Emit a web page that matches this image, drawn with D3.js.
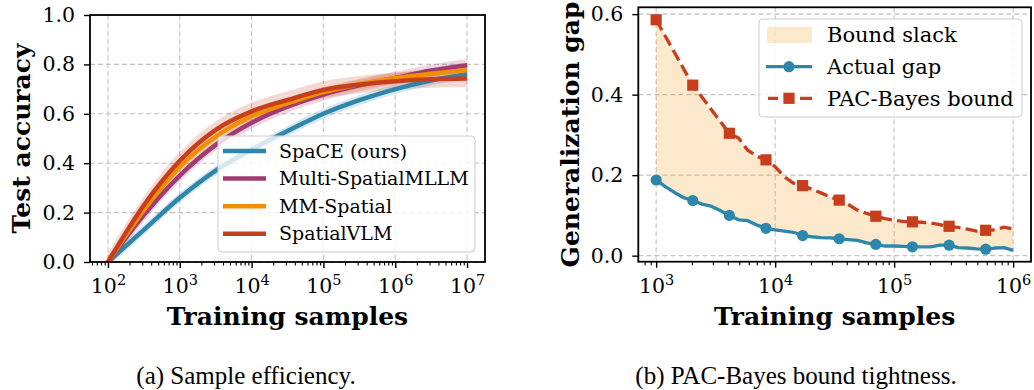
<!DOCTYPE html>
<html>
<head>
<meta charset="utf-8">
<script src="https://cdn.jsdelivr.net/npm/d3@7"></script>
<style>
  body { margin: 0; background: #fff; }
  svg { display: block; font-family: "DejaVu Serif", serif; }
</style>
</head>
<body>
<div class="chart"></div>
<script>
const effSamples = [100, 316, 1000, 3162, 10000, 31623, 100000, 316228, 1000000, 3162278, 10000000];
const effNames = ['SpaCE (ours)', 'Multi-SpatialMLLM', 'MM-Spatial', 'SpatialVLM'];
const spaceAcc = [0, 0.13, 0.26, 0.37, 0.455, 0.53, 0.60, 0.655, 0.70, 0.735, 0.76];
const multiAcc = [0, 0.19, 0.35, 0.474, 0.564, 0.629, 0.678, 0.715, 0.745, 0.775, 0.797];
const mmAcc    = [0, 0.21, 0.385, 0.507, 0.591, 0.642, 0.688, 0.72, 0.745, 0.762, 0.777];
const vlmAcc   = [0, 0.23, 0.41, 0.535, 0.61, 0.656, 0.697, 0.718, 0.732, 0.74, 0.743];
const effSpread = [0.02, 0.025, 0.02, 0.035];
const accTicks = [0, 0.2, 0.4, 0.6, 0.8, 1.0];
const accDecades = [2, 3, 4, 5, 6, 7];

// (b) PAC-Bayes bound tightness
const gapSamples = [1000, 1194, 1425, 1701, 2031, 2424, 2894, 3455, 4125, 4924,
  5879, 7017, 8377, 10000, 11938, 14251, 17013, 20309, 24245, 28943,
  34551, 41246, 49239, 58780, 70170, 83768, 100000, 119378, 142510, 170125,
  203092, 242446, 289427, 345511, 412463, 492388, 587802, 701704, 837678, 1000000];
const actualGap = [0.188, 0.1715, 0.157, 0.144, 0.137, 0.128, 0.123, 0.112, 0.100, 0.089,
  0.087, 0.076, 0.068, 0.064, 0.061, 0.058, 0.050, 0.047, 0.045, 0.044,
  0.042, 0.040, 0.038, 0.032, 0.028, 0.024, 0.024, 0.023, 0.022, 0.022,
  0.022, 0.026, 0.026, 0.020, 0.019, 0.017, 0.016, 0.019, 0.020, 0.013];
const pacBound = [0.586, 0.545, 0.505, 0.464, 0.4235, 0.394, 0.364, 0.334, 0.304, 0.292,
  0.262, 0.247, 0.238, 0.221, 0.196, 0.180, 0.174, 0.165, 0.156, 0.146,
  0.138, 0.127, 0.113, 0.105, 0.098, 0.092, 0.088, 0.085, 0.084, 0.083,
  0.081, 0.077, 0.073, 0.070, 0.066, 0.061, 0.063, 0.064, 0.071, 0.066];
const gapNames = ['Bound slack', 'Actual gap', 'PAC-Bayes bound'];
const gapTicks = [0, 0.2, 0.4, 0.6];
const gapDecades = [3, 4, 5, 6];

const colors = ['#2E86AB', '#A23B72', '#F18F01', '#C73E1D'];
const SERIF = '"DejaVu Serif", serif';
const TICK_FONT = 20.5;
const LABEL_FONT = 25;

const svg = d3.select('.chart')
  .append('svg')
    .attr('width', 1034)
    .attr('height', 390);

const xA = d3.scaleLog().domain([10 ** 1.75, 10 ** 7.25]).range([90, 485]);
const yA = d3.scaleLinear().domain([0, 1]).range([262, 15]);
const xB = d3.scaleLog().domain([10 ** 2.85, 10 ** 6.15]).range([638.3, 1031]);
const yB = d3.scaleLinear().domain([-0.015, 0.617]).range([261.7, 7.3]);

function minorTicks (x) {
  const [lo, hi] = x.domain();
  const out = [];
  for (let k = Math.floor(Math.log10(lo)); k <= Math.ceil(Math.log10(hi)); k++) {
    for (let m = 2; m <= 9; m++) {
      const v = m * 10 ** k;
      if (v >= lo && v <= hi) out.push(v);
    }
  }
  return out;
}

function axes (id, x, y, decades, yTicks) {
  const [left, right] = x.range();
  const [bottom, top] = y.range();
  svg.append('clipPath').attr('id', id)
    .append('rect')
      .attr('x', left).attr('y', top)
      .attr('width', right - left).attr('height', bottom - top);

  const grid = svg.append('g')
    .attr('stroke', '#c2c2c2')
    .attr('stroke-width', 1.1)
    .attr('stroke-dasharray', '5,3');
  grid.selectAll('.gx').data(decades).join('line')
    .attr('x1', d => x(10 ** d)).attr('x2', d => x(10 ** d))
    .attr('y1', top).attr('y2', bottom);
  grid.selectAll('.gy').data(yTicks).join('line')
    .attr('x1', left).attr('x2', right)
    .attr('y1', d => y(d)).attr('y2', d => y(d));

  const yAxis = svg.append('g')
    .attr('transform', `translate(${left}, 0)`)
    .call(d3.axisLeft(y).tickValues(yTicks).tickSize(6).tickPadding(9)
      .tickFormat(d3.format('.1f')))
    .attr('font-size', TICK_FONT)
    .attr('font-family', SERIF);
  yAxis.select('.domain').remove();
  yAxis.selectAll('line').attr('stroke-width', 1.4);
  yAxis.selectAll('text').attr('fill', '#000').attr('font-family', SERIF);

  const xMinor = svg.append('g')
    .attr('transform', `translate(0, ${bottom})`)
    .call(d3.axisBottom(x).tickValues(minorTicks(x)).tickSize(3.5).tickFormat(() => ''));
  xMinor.select('.domain').remove();
  xMinor.selectAll('line').attr('stroke-width', 1.1);

  const xAxis = svg.append('g')
    .attr('transform', `translate(0, ${bottom})`)
    .call(d3.axisBottom(x).tickValues(decades.map(d => 10 ** d)).tickSize(6).tickFormat(() => ''));
  xAxis.select('.domain').remove();
  xAxis.selectAll('line').attr('stroke-width', 1.4);
  xAxis.selectAll('.tick').each(function (v) {
    const t = d3.select(this).append('text')
      .attr('y', 292.7 - bottom)
      .attr('text-anchor', 'middle')
      .attr('fill', '#000')
      .attr('font-size', TICK_FONT)
      .attr('font-family', SERIF);
    t.append('tspan').text('10');
    t.append('tspan').attr('dy', -8).attr('font-size', 14.5).text(Math.round(Math.log10(v)));
  });

  svg.append('text')
    .attr('x', (left + right) / 2)
    .attr('y', 325)
    .attr('text-anchor', 'middle')
    .attr('font-family', SERIF)
    .attr('font-size', LABEL_FONT)
    .attr('font-weight', 'bold')
    .text('Training samples');
}

function frame (x, y) {
  const [left, right] = x.range();
  const [bottom, top] = y.range();
  svg.append('rect')
    .attr('x', left).attr('y', top)
    .attr('width', right - left).attr('height', bottom - top)
    .attr('fill', 'none')
    .attr('stroke', '#000')
    .attr('stroke-width', 1.8);
}

// ---------- panel (a)
axes('clipA', xA, yA, accDecades, accTicks);

const accSeries = [spaceAcc, multiAcc, mmAcc, vlmAcc];
const plotA = svg.append('g').attr('clip-path', 'url(#clipA)');

accSeries.forEach((vals, i) => {
  const area = d3.area()
    .x((d, j) => xA(effSamples[j]))
    .y0(d => yA(d - effSpread[i]))
    .y1(d => yA(d + effSpread[i]))
    .curve(d3.curveMonotoneX);
  plotA.append('path')
    .attr('d', area(vals))
    .attr('fill', colors[i])
    .attr('opacity', 0.2);
});
accSeries.forEach((vals, i) => {
  const line = d3.line()
    .x((d, j) => xA(effSamples[j]))
    .y(d => yA(d))
    .curve(d3.curveMonotoneX);
  plotA.append('path')
    .attr('d', line(vals))
    .attr('fill', 'none')
    .attr('stroke', colors[i])
    .attr('stroke-width', 4.5);
});

const legA = svg.append('g');
legA.append('rect')
  .attr('x', 218).attr('y', 136).attr('width', 257).attr('height', 116)
  .attr('rx', 4)
  .attr('fill', '#fff').attr('fill-opacity', 0.8)
  .attr('stroke', '#cccccc');
effNames.forEach((name, i) => {
  const yy = 151 + i * 27.6;
  legA.append('line')
    .attr('x1', 223).attr('x2', 266).attr('y1', yy).attr('y2', yy)
    .attr('stroke', colors[i]).attr('stroke-width', 4.5);
  legA.append('text')
    .attr('x', 279).attr('y', yy).attr('dy', '0.35em')
    .attr('font-family', SERIF)
    .attr('font-size', 19)
    .text(name);
});

frame(xA, yA);

svg.append('text')
  .attr('transform', 'translate(29.5, 138.5) rotate(-90)')
  .attr('text-anchor', 'middle')
  .attr('font-family', SERIF)
  .attr('font-size', LABEL_FONT)
  .attr('font-weight', 'bold')
  .text('Test accuracy');

// ---------- panel (b)
axes('clipB', xB, yB, gapDecades, gapTicks);
const plotB = svg.append('g').attr('clip-path', 'url(#clipB)');

const slack = d3.area()
  .x((d, j) => xB(gapSamples[j]))
  .y0(d => yB(d))
  .y1((d, j) => yB(pacBound[j]));
plotB.append('path')
  .attr('d', slack(actualGap))
  .attr('fill', colors[2])
  .attr('opacity', 0.2);

const gapLine = d3.line()
  .x((d, j) => xB(gapSamples[j]))
  .y(d => yB(d));
const marked = (d, j) => j % 4 === 0 && j < gapSamples.length - 1;

plotB.append('path')
  .attr('d', gapLine(actualGap))
  .attr('fill', 'none')
  .attr('stroke', colors[0])
  .attr('stroke-width', 3.3)
  .attr('stroke-linejoin', 'round');
plotB.selectAll('.gapdot')
  .data(actualGap.map((d, j) => [gapSamples[j], d]).filter(marked))
  .join('circle')
    .attr('cx', d => xB(d[0]))
    .attr('cy', d => yB(d[1]))
    .attr('r', 5.6)
    .attr('fill', colors[0]);

plotB.append('path')
  .attr('d', gapLine(pacBound))
  .attr('fill', 'none')
  .attr('stroke', colors[3])
  .attr('stroke-width', 3.3)
  .attr('stroke-dasharray', '12,5.3');
plotB.selectAll('.bounddot')
  .data(pacBound.map((d, j) => [gapSamples[j], d]).filter(marked))
  .join('rect')
    .attr('x', d => xB(d[0]) - 5.6)
    .attr('y', d => yB(d[1]) - 5.6)
    .attr('width', 11.2)
    .attr('height', 11.2)
    .attr('fill', colors[3]);

const legB = svg.append('g');
legB.append('rect')
  .attr('x', 759).attr('y', 19).attr('width', 263).attr('height', 98)
  .attr('rx', 4)
  .attr('fill', '#fff').attr('fill-opacity', 0.8)
  .attr('stroke', '#cccccc');
const rowsB = [35, 66.7, 98.3];
legB.append('rect')
  .attr('x', 767).attr('y', rowsB[0] - 8).attr('width', 45).attr('height', 16)
  .attr('fill', colors[2]).attr('opacity', 0.2);
legB.append('line')
  .attr('x1', 766).attr('x2', 812).attr('y1', rowsB[1]).attr('y2', rowsB[1])
  .attr('stroke', colors[0]).attr('stroke-width', 3.3);
legB.append('circle')
  .attr('cx', 789).attr('cy', rowsB[1]).attr('r', 5.6)
  .attr('fill', colors[0]);
legB.append('line')
  .attr('x1', 768).attr('x2', 812).attr('y1', rowsB[2]).attr('y2', rowsB[2])
  .attr('stroke', colors[3]).attr('stroke-width', 3.3)
  .attr('stroke-dasharray', '10,22,12');
legB.append('rect')
  .attr('x', 789 - 5.6).attr('y', rowsB[2] - 5.6).attr('width', 11.2).attr('height', 11.2)
  .attr('fill', colors[3]);
gapNames.forEach((name, i) => {
  legB.append('text')
    .attr('x', 827).attr('y', rowsB[i]).attr('dy', '0.35em')
    .attr('font-family', SERIF)
    .attr('font-size', 21)
    .text(name);
});

frame(xB, yB);

svg.append('text')
  .attr('transform', 'translate(578.5, 134.5) rotate(-90)')
  .attr('text-anchor', 'middle')
  .attr('font-family', SERIF)
  .attr('font-size', LABEL_FONT)
  .attr('font-weight', 'bold')
  .text('Generalization gap');

// captions
svg.append('text')
  .attr('x', 246).attr('y', 384)
  .attr('text-anchor', 'middle')
  .attr('font-family', '"Liberation Serif", serif')
  .attr('font-size', 25)
  .text('(a) Sample efficiency.');
svg.append('text')
  .attr('x', 796).attr('y', 384)
  .attr('text-anchor', 'middle')
  .attr('font-family', '"Liberation Serif", serif')
  .attr('font-size', 25)
  .text('(b) PAC-Bayes bound tightness.');
</script>
</body>
</html>
